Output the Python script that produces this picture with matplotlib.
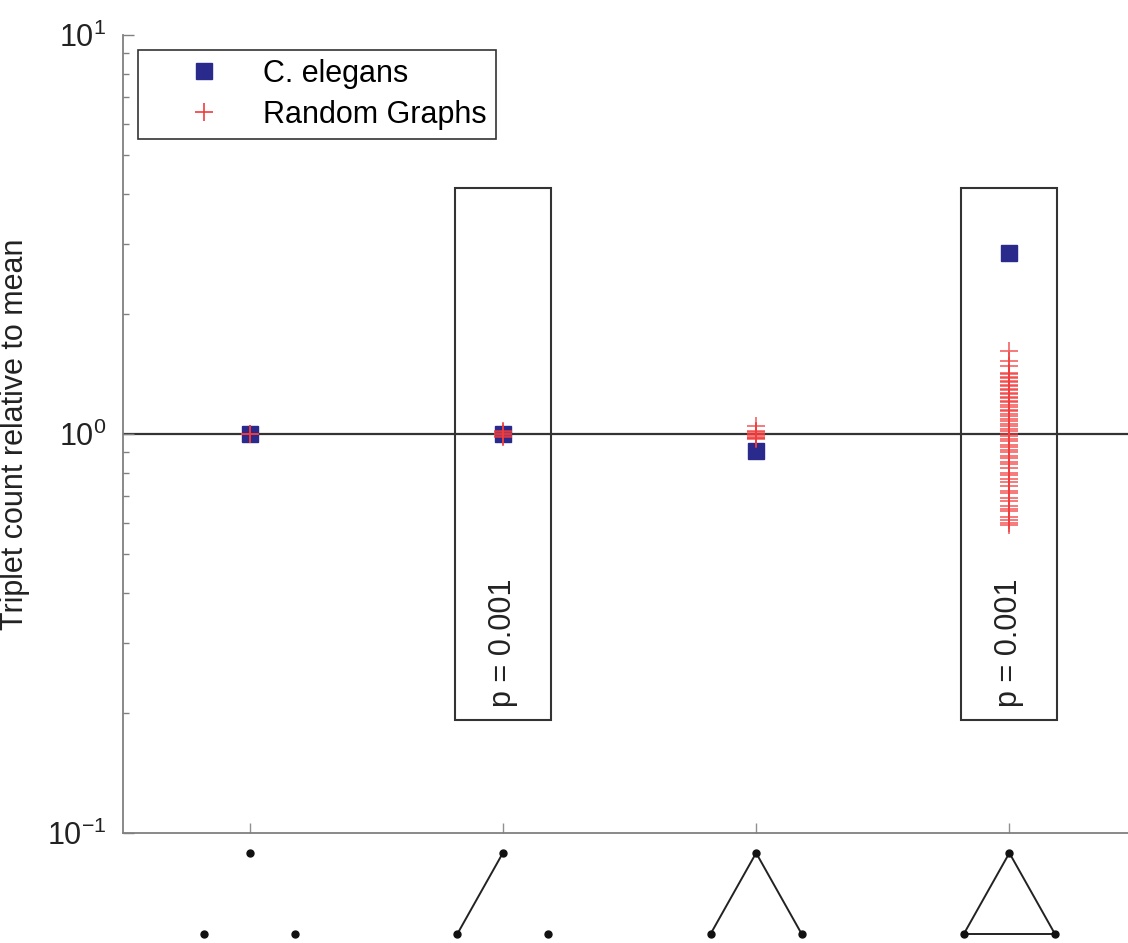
import matplotlib
matplotlib.use("Agg")
import matplotlib.pyplot as plt
import matplotlib.transforms as mtransforms
from matplotlib.patches import Rectangle

plt.rcParams['font.family'] = ['Liberation Sans', 'DejaVu Sans']
plt.rcParams['mathtext.fontset'] = 'custom'
plt.rcParams['mathtext.rm'] = 'Liberation Sans'
plt.rcParams['mathtext.it'] = 'Liberation Sans'
plt.rcParams['mathtext.default'] = 'regular'

# data
positions = [1, 2, 3, 4]
elegans = [1.0, 1.0, 0.905, 2.84]
random_graphs = {
    1: [1.0, 1.0, 1.0, 1.0],
    2: [0.985, 0.99, 1.0, 1.0, 1.01, 1.02],
    3: [0.97, 0.975, 0.98, 0.99, 1.0, 1.0, 1.01, 1.02, 1.05],
    4: [1.61, 1.52, 1.48, 1.42, 1.41, 1.39, 1.38, 1.36, 1.35, 1.33,
        1.32, 1.30, 1.29, 1.27, 1.26, 1.24, 1.23, 1.21, 1.20, 1.18,
        1.17, 1.15, 1.14, 1.12, 1.11, 1.09, 1.08, 1.06, 1.05, 1.03,
        1.02, 1.0, 0.99, 0.97, 0.96, 0.94, 0.93, 0.91, 0.90, 0.88,
        0.87, 0.85, 0.84, 0.82, 0.80, 0.79, 0.77, 0.76, 0.74, 0.72,
        0.71, 0.69, 0.68, 0.66, 0.65, 0.64, 0.62, 0.61, 0.60, 0.59],
}
boxed = [2, 4]
p_labels = ["p = 0.001", "p = 0.001"]
box_y = (0.192, 4.14)
p_y = 0.30

# triplet icons: edges between nodes (0 = top, 1 = bottom-left, 2 = bottom-right)
icon_edges = {
    1: [],
    2: [(0, 1)],
    3: [(0, 1), (0, 2)],
    4: [(0, 1), (0, 2), (1, 2)],
}

fig = plt.figure(figsize=(11.28, 9.43), dpi=100)
ax = fig.add_axes([123 / 1128, 110 / 943, 1013 / 1128, 798 / 943])

ax.set_yscale('log')
ax.set_ylim(0.1, 10)
ax.set_xlim(0.5, 4.5)

ax.axhline(1.0, color='#333333', lw=1.6, zorder=1)

for b, lab in zip(boxed, p_labels):
    ax.add_patch(Rectangle((b - 0.19, box_y[0]), 0.38, box_y[1] - box_y[0],
                           fill=False, ec='#333333', lw=1.5, zorder=2))
    ax.text(b, p_y, lab, rotation=90, ha='center', va='center',
            fontsize=22, color='#222222')

ax.plot(positions, elegans, ls='none', marker='s', ms=12,
        color='#2a2a8c', mec='#2a2a8c', zorder=3, label='C. elegans')
first = True
for x, vals in random_graphs.items():
    ax.plot([x] * len(vals), vals, ls='none', marker='+', ms=13, mew=1.2,
            color='#f03c3c', alpha=0.8, zorder=4,
            label='Random Graphs' if first else None)
    first = False

for s in ['top', 'right']:
    ax.spines[s].set_visible(False)
for s in ['left', 'bottom']:
    ax.spines[s].set_color('#808080')
    ax.spines[s].set_linewidth(1.3)

ax.set_xticks(positions)
ax.set_xticklabels([])
ax.tick_params(axis='x', direction='in', length=7, width=1, colors='#909090')
ax.tick_params(axis='y', which='major', direction='in', length=8, width=1,
               color='#808080', labelsize=22, labelcolor='#222222', pad=12)
ax.tick_params(axis='y', which='minor', direction='in', length=4, width=1,
               color='#808080')
ax.set_ylabel('Triplet count relative to mean', fontsize=22, color='#222222')
ax.yaxis.set_label_coords(-0.092, 0.5)

leg = ax.legend(loc='upper left', bbox_to_anchor=(138 / 1128, 1 - 50 / 943),
                bbox_transform=fig.transFigure, borderaxespad=0,
                fontsize=22, fancybox=False, edgecolor='#333333',
                framealpha=1, handlelength=3.7, handletextpad=0.1,
                borderpad=0.3, labelspacing=0.35)
leg.get_frame().set_linewidth(1.2)
for h in leg.legend_handles:
    h.set_alpha(1)

# triplet icons below the axis
trans = mtransforms.blended_transform_factory(ax.transData, ax.transAxes)
for x, edges in icon_edges.items():
    nodes = [(x, -0.025), (x - 0.18, -0.1266), (x + 0.18, -0.1266)]
    for i, j in edges:
        ax.plot([nodes[i][0], nodes[j][0]], [nodes[i][1], nodes[j][1]],
                color='#222222', lw=1.4, transform=trans, clip_on=False)
    ax.plot([n[0] for n in nodes], [n[1] for n in nodes], ls='none',
            marker='o', ms=5, color='#111111', transform=trans, clip_on=False)

fig.savefig('out.png', dpi=100)
